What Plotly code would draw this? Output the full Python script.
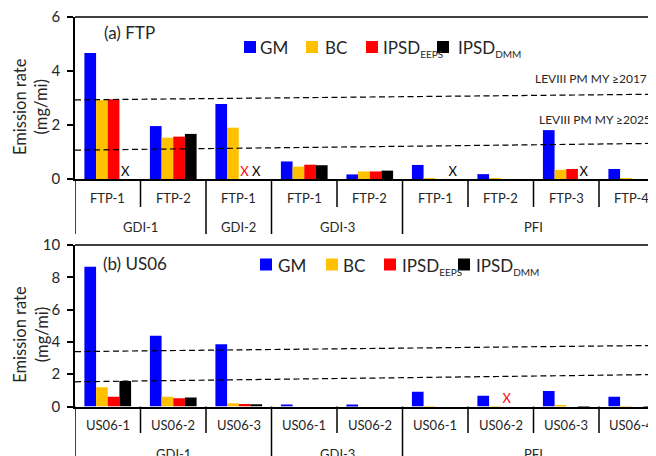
import plotly.graph_objects as go

# page body has an 8px margin: the figure is sized so that it ends at the window edge
OFF = 8
W, H = 656 - OFF, 456 - OFF
FONT = "Lato"
TXT = "#262626"

series_names = ["GM", "BC", "IPSD<sub><span style='font-size:10px'>EEPS</span></sub>",
                "IPSD<sub><span style='font-size:10px'>DMM</span></sub>"]
series_colors = ["#0000FF", "#FFC000", "#FF0000", "#000000"]

# ---------------- (a) FTP ----------------
ftp_groups = ["GDI-1", "GDI-1", "GDI-2", "GDI-3", "GDI-3", "PFI", "PFI", "PFI", "PFI"]
ftp_tests = ["FTP-1", "FTP-2", "FTP-1", "FTP-1", "FTP-2", "FTP-1", "FTP-2", "FTP-3", "FTP-4"]
ftp_gm = [4.67, 1.96, 2.78, 0.65, 0.17, 0.52, 0.18, 1.81, 0.37]
ftp_bc = [2.92, 1.53, 1.90, 0.46, 0.28, 0.02, 0.02, 0.34, 0.02]
ftp_eeps = [2.95, 1.57, None, 0.53, 0.28, None, None, 0.37, None]
ftp_dmm = [None, 1.67, None, 0.51, 0.31, None, None, None, None]
ftp_missing = [(0, 3), (2, 2), (2, 3), (5, 3), (7, 3)]  # (category, series) shown as "X"
ftp_limit_2017 = [2.93, 3.14]   # dashed limit line, left end / right end
ftp_limit_2025 = [1.07, 1.32]
ftp_limit_labels = ["LEVIII PM MY \u22652017", "LEVIII PM MY \u22652025"]

# ---------------- (b) US06 ----------------
us06_groups = ["GDI-1", "GDI-1", "GDI-1", "GDI-3", "GDI-3", "PFI", "PFI", "PFI", "PFI"]
us06_tests = ["US06-1", "US06-2", "US06-3", "US06-1", "US06-2", "US06-1", "US06-2", "US06-3", "US06-4"]
us06_gm = [8.65, 4.38, 3.86, 0.13, 0.12, 0.92, 0.67, 0.96, 0.61]
us06_bc = [1.19, 0.61, 0.20, None, None, 0.03, 0.03, 0.05, 0.03]
us06_eeps = [0.61, 0.51, 0.16, None, None, None, None, None, None]
us06_dmm = [1.58, 0.55, 0.14, None, None, None, None, 0.03, 0.03]
us06_missing = [(6, 2)]
us06_limit_upper = [3.40, 3.78]
us06_limit_lower = [1.53, 1.98]

ftp_ticks = [0, 2, 4, 6]
us06_ticks = [0, 2, 4, 6, 8, 10]


def X(p):
    """window pixel -> paper x"""
    return (p - OFF) / W


def Y(p):
    """window pixel -> paper y"""
    return 1 - (p - OFF) / H


BARGAP = 0.287
XRANGE = [-0.5, 8.37]

fig = go.Figure()
shapes = []
annos = []

panels = [
    dict(xa="x", ya="y", groups=ftp_groups, tests=ftp_tests,
         vals=[ftp_gm, ftp_bc, ftp_eeps, ftp_dmm], missing=ftp_missing,
         limits=[ftp_limit_2017, ftp_limit_2025],
         axis_px=179, top_px=17, lab_px=198, grp_px=226.5, tick_end=207, div_end=234,
         title="(a) FTP", title_px=(102, 33), leg_y=47,
         leg_sq=[244, 306, 366, 437], leg_tx=[258, 322.5, 381.5, 456]),
    dict(xa="x2", ya="y2", groups=us06_groups, tests=us06_tests,
         vals=[us06_gm, us06_bc, us06_eeps, us06_dmm], missing=us06_missing,
         limits=[us06_limit_upper, us06_limit_lower],
         axis_px=406.5, top_px=245, lab_px=425, grp_px=454, tick_end=433, div_end=470,
         title="(b) US06", title_px=(101, 263), leg_y=264.5,
         leg_sq=[260, 326, 384, 458], leg_tx=[276, 341, 399.5, 473.5]),
]

nser = len(series_names)
slot = (1 - BARGAP) / nser

for p in panels:
    n = len(p["tests"])
    idx = list(range(n))
    for k in range(nser):
        fig.add_trace(go.Bar(
            x=idx, y=p["vals"][k], name=series_names[k],
            marker=dict(color=series_colors[k], line=dict(width=0)),
            xaxis=p["xa"], yaxis=p["ya"], showlegend=False,
        ))
    # "X" markers for missing measurements
    mx = [c - (1 - BARGAP) / 2 + (s + 0.5) * slot for c, s in p["missing"]]
    fig.add_trace(go.Scatter(
        x=mx, y=[0] * len(mx), mode="text", text=["X"] * len(mx),
        textposition="top center",
        textfont=dict(family=FONT, size=13, color=[series_colors[s] for _, s in p["missing"]]),
        xaxis=p["xa"], yaxis=p["ya"], showlegend=False, cliponaxis=False, hoverinfo="skip",
    ))
    # top frame line of the panel
    shapes.append(dict(type="line", xref=p["xa"] + " domain", yref=p["ya"] + " domain",
                       x0=0, x1=1, y0=1, y1=1, line=dict(color="#000000", width=1.5)))
    # dashed limit lines
    for lo, hi in p["limits"]:
        shapes.append(dict(type="line", xref=p["xa"], yref=p["ya"], x0=XRANGE[0], x1=XRANGE[1],
                           y0=lo, y1=hi, line=dict(color="#000000", width=1.2, dash="6px,3.5px")))
    # category labels
    for i, t in enumerate(p["tests"]):
        annos.append(dict(x=i, y=Y(p["lab_px"]), xref=p["xa"], yref="paper", text=t,
                          showarrow=False, xanchor="center", yanchor="middle",
                          font=dict(family=FONT, size=13, color=TXT)))
    # group labels and dividers
    groups = p["groups"]
    start = 0
    bounds = []
    for i in range(1, n + 1):
        if i == n or groups[i] != groups[start]:
            annos.append(dict(x=(start + i - 1) / 2, y=Y(p["grp_px"]), xref=p["xa"], yref="paper",
                              text=groups[start], showarrow=False, xanchor="center", yanchor="middle",
                              font=dict(family=FONT, size=13, color=TXT)))
            bounds.append(start - 0.5)
            start = i
    for i in range(1, n):
        b = i - 0.5
        if b in bounds:
            continue
        shapes.append(dict(type="line", xref=p["xa"], yref="paper", x0=b, x1=b,
                           y0=Y(p["axis_px"]), y1=Y(p["tick_end"]),
                           line=dict(color="#000000", width=1.5)))
    for b in bounds:
        shapes.append(dict(type="line", xref=p["xa"], yref="paper", x0=b, x1=b,
                           y0=Y(p["axis_px"]), y1=Y(p["div_end"]),
                           line=dict(color="#000000", width=1.5)))
    # panel title
    annos.append(dict(x=X(p["title_px"][0]), y=Y(p["title_px"][1]), xref="paper", yref="paper",
                      text=p["title"], showarrow=False, xanchor="left", yanchor="middle",
                      font=dict(family=FONT, size=17, color=TXT)))
    # y title
    annos.append(dict(x=X(31), y=Y((p["axis_px"] + p["top_px"]) / 2 + 9), xref="paper", yref="paper",
                      text="Emission rate<br>(mg/mi)", showarrow=False, textangle=-90,
                      xanchor="center", yanchor="middle",
                      font=dict(family=FONT, size=16.5, color=TXT)))
    # legend
    for k in range(nser):
        x0 = p["leg_sq"][k]
        shapes.append(dict(type="rect", xref="paper", yref="paper",
                           x0=X(x0), x1=X(x0 + 12), y0=Y(p["leg_y"] - 6), y1=Y(p["leg_y"] + 6),
                           fillcolor=series_colors[k], line=dict(width=0)))
        annos.append(dict(x=X(p["leg_tx"][k]), y=Y(p["leg_y"] - 12), xref="paper", yref="paper",
                          text=series_names[k], showarrow=False, xanchor="left", yanchor="top",
                          font=dict(family=FONT, size=17, color=TXT)))

# limit labels (panel a)
annos.append(dict(x=X(533), y=Y(78), xref="paper", yref="paper", text=ftp_limit_labels[0],
                  showarrow=False, xanchor="left", yanchor="middle",
                  font=dict(family=FONT, size=12, color=TXT)))
annos.append(dict(x=X(537), y=Y(119), xref="paper", yref="paper", text=ftp_limit_labels[1],
                  showarrow=False, xanchor="left", yanchor="middle",
                  font=dict(family=FONT, size=12, color=TXT)))

xcommon = dict(domain=[X(75), 1], range=XRANGE, showticklabels=False, ticks="",
               showline=True, linecolor="#000000", linewidth=1.5,
               showgrid=False, zeroline=False, fixedrange=True)
ycommon = dict(showline=True, linecolor="#000000", linewidth=1.5, ticks="outside", ticklen=6,
               tickwidth=1.5, tickcolor="#000000", showgrid=False, zeroline=False,
               ticklabelstandoff=4, ticklabeloverflow="allow",
               tickfont=dict(family=FONT, size=15, color=TXT), automargin=False)

fig.update_layout(
    width=W, height=H,
    margin=dict(l=0, r=0, t=0, b=0),
    paper_bgcolor="white", plot_bgcolor="white",
    barmode="group", bargap=BARGAP, bargroupgap=0,
    showlegend=False,
    xaxis=dict(anchor="y", **xcommon),
    xaxis2=dict(anchor="y2", **xcommon),
    yaxis=dict(anchor="x", domain=[Y(179), Y(17)], range=[0, 6], tickvals=ftp_ticks, **ycommon),
    yaxis2=dict(anchor="x2", domain=[Y(406.5), Y(245)], range=[0, 10], tickvals=us06_ticks, **ycommon),
    shapes=shapes,
    annotations=annos,
    font=dict(family=FONT, color=TXT),
)

fig.write_html("out.html")
